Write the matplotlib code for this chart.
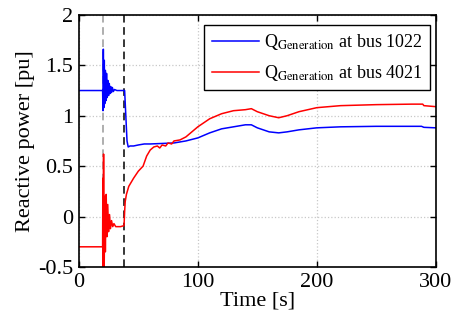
import numpy as np
from matplotlib import pyplot as plt

# blue: Q generation at bus 1022
t_1022 = [0, 20, 20.3, 20.6, 21.0, 21.4, 21.8, 22.3, 22.8, 23.3, 23.8, 24.4, 25.0, 25.6,
          26.2, 26.8, 27.5, 28.2, 29.0, 30, 32, 38.5, 39.5, 40.5, 41.5, 43, 46, 50, 55,
          60, 70, 80, 90, 100, 110, 120, 130, 140, 145, 150, 160, 168, 175, 185, 200,
          220, 250, 280, 288, 290, 300]
q_1022 = [1.25, 1.25, 1.05, 1.66, 1.08, 1.55, 1.12, 1.45, 1.15, 1.42, 1.18, 1.35, 1.20, 1.32,
          1.22, 1.29, 1.23, 1.28, 1.24, 1.26, 1.25, 1.25, 1.0, 0.75, 0.69, 0.70, 0.70, 0.71, 0.72,
          0.72, 0.725, 0.73, 0.75, 0.78, 0.83, 0.87, 0.89, 0.91, 0.91, 0.88, 0.84, 0.83, 0.84, 0.86, 0.88,
          0.89, 0.895, 0.895, 0.895, 0.885, 0.88]

# red: Q generation at bus 4021
t_4021 = [0, 20, 20.2, 20.4, 20.8, 21.3, 21.8, 22.3, 23.0, 23.6, 24.3, 25.0, 25.8, 26.6,
          27.5, 28.5, 29.5, 31, 35, 38, 38.5, 39, 40, 42, 46, 50, 54, 57, 60, 63, 66, 68, 70,
          73, 75, 78, 80, 85, 90, 100, 110, 120, 130, 140, 145, 150, 160, 168, 175, 185, 200, 220,
          250, 280, 289, 290, 300]
q_4021 = [-0.3, -0.3, 0.38, -0.55, 0.62, -0.55, 0.2, -0.35, 0.22, -0.2, 0.12, -0.15, 0.02, -0.12,
          -0.04, -0.1, -0.07, -0.1, -0.1, -0.09, 0.05, 0.15, 0.22, 0.3, 0.38, 0.45, 0.5, 0.6, 0.66, 0.69, 0.70, 0.68, 0.71,
          0.70, 0.73, 0.72, 0.75, 0.76, 0.79, 0.89, 0.97, 1.02, 1.05, 1.06, 1.07, 1.04, 1.0, 0.98, 1.0, 1.04, 1.08, 1.10,
          1.11, 1.115, 1.115, 1.10, 1.09]

t_fault = 20
t_switch = 38

plt.rcParams['font.family'] = ['Liberation Serif', 'DejaVu Serif']
plt.rcParams['mathtext.fontset'] = 'stix'

fig = plt.figure(figsize=(4.53, 3.24), dpi=100)
ax = fig.add_axes([0.174, 0.176, 0.788, 0.778])

ax.grid(True, linestyle=':', color='#c8c8c8', linewidth=0.9)
ax.axvline(t_fault, color='#999999', linestyle=(0, (5, 3)), linewidth=1.1)
ax.axvline(t_switch, color='black', linestyle=(0, (5, 3)), linewidth=1.1)

ax.plot(t_1022, q_1022, color='blue', linewidth=1.1, label=r'Q$_{\rm Generation}$ at bus 1022')
ax.plot(t_4021, q_4021, color='red', linewidth=1.1, label=r'Q$_{\rm Generation}$ at bus 4021')

ax.set_xlim(0, 300)
ax.set_ylim(-0.5, 2)
ax.set_xticks([0, 100, 200, 300])
ax.set_yticks([-0.5, 0, 0.5, 1, 1.5, 2])
ax.set_yticklabels(['-0.5', '0', '0.5', '1', '1.5', '2'])
ax.tick_params(direction='in', top=True, right=True, labelsize=16, length=4, width=1, pad=4)
for s in ax.spines.values():
    s.set_linewidth(1.2)

ax.set_xlabel('Time [s]', fontsize=16, labelpad=0)
ax.set_ylabel('Reactive power [pu]', fontsize=16, labelpad=2)

leg = ax.legend(loc='upper right', fontsize=13, fancybox=False, framealpha=1,
                edgecolor='black', handlelength=2.6, handletextpad=0.3, borderpad=0.4,
                labelspacing=0.6, borderaxespad=0, bbox_to_anchor=(0.983, 0.96))
leg.get_frame().set_linewidth(1.0)

plt.savefig('out.png', dpi=100)
